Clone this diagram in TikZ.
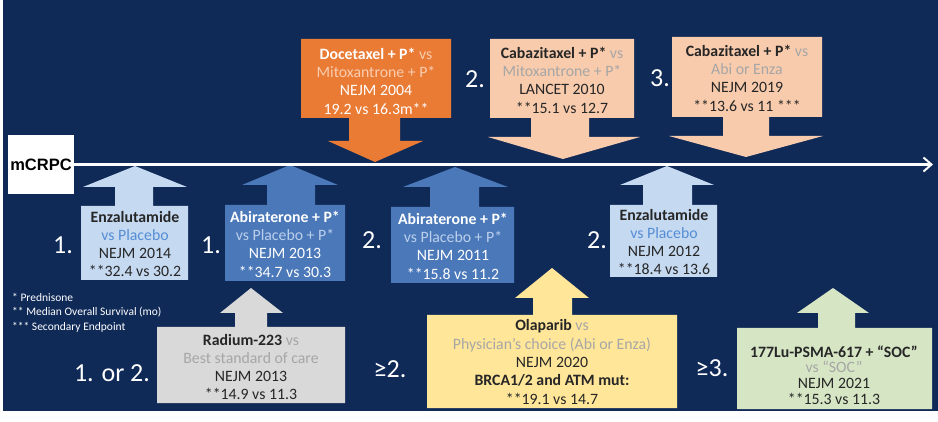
\documentclass[tikz,border=0pt]{standalone}
\usepackage{fontspec}
\setmainfont{Carlito}
\newfontfamily\arialfont{Liberation Sans}
\usetikzlibrary{arrows.meta}
\definecolor{navy}{RGB}{16,42,88}
\definecolor{lblue}{RGB}{197,217,241}
\definecolor{mblue}{RGB}{74,120,185}
\definecolor{orng}{RGB}{233,123,53}
\definecolor{peach}{RGB}{248,203,173}
\definecolor{lgray}{RGB}{217,217,217}
\definecolor{yell}{RGB}{255,230,153}
\definecolor{lgreen}{RGB}{214,230,196}
\definecolor{dark}{RGB}{38,38,38}
\definecolor{gtext}{RGB}{166,166,166}
\definecolor{enzavs}{RGB}{85,142,213}
\definecolor{abivs}{RGB}{188,208,236}
\definecolor{docvs}{RGB}{250,205,176}
\tikzset{
  txt/.style={font=\fontsize{15.8}{18.3}\selectfont, align=center, text=dark, inner sep=0pt},
  lbl/.style={font=\fontsize{26}{26}\selectfont, text=white, inner sep=0pt},
  fnote/.style={font=\fontsize{11.5}{11.5}\selectfont, text=white, inner sep=0pt, anchor=west},
}
\begin{document}
\begin{tikzpicture}[x=1pt,y=-1pt]
\useasboundingbox (0,0) rectangle (938,422);
\fill[white] (0,0) rectangle (938,422);
\fill[navy] (3,0) rectangle (938,411);

% callout shapes (boxes with arrows)
\fill[lblue] (81,280) -- (81,206) -- (115,206) -- (115,187) -- (83,187) -- (135,166) -- (187,187) -- (153,187) -- (153,206) -- (188,206) -- (188,280) -- cycle;
\fill[mblue] (225,281) -- (225,205) -- (267,205) -- (267,185) -- (242,185) -- (290,165) -- (338,185) -- (315,185) -- (315,205) -- (345,205) -- (345,281) -- cycle;
\fill[orng] (301,39) -- (451,39) -- (451,118) -- (400,118) -- (400,141) -- (423,141) -- (375,162) -- (328,141) -- (349,141) -- (349,118) -- (301,118) -- cycle;
\fill[peach] (490,39) -- (634,39) -- (634,118) -- (589,118) -- (589,137) -- (640,137) -- (563,159) -- (488,137) -- (531,137) -- (531,118) -- (490,118) -- cycle;
\fill[peach] (672,37) -- (822,37) -- (822,117) -- (769,117) -- (769,136) -- (823,136) -- (746,157) -- (669,136) -- (723,136) -- (723,117) -- (672,117) -- cycle;
\fill[mblue] (391,283) -- (391,207) -- (430,207) -- (430,187) -- (403,187) -- (455,167) -- (508,187) -- (479,187) -- (479,207) -- (514,207) -- (514,283) -- cycle;
\fill[lblue] (610,277) -- (610,205) -- (643,205) -- (643,185) -- (620,185) -- (667,166) -- (714,185) -- (692,185) -- (692,205) -- (717,205) -- (717,277) -- cycle;
\fill[lgray] (157,403) -- (157,327) -- (235,327) -- (235,313) -- (220,313) -- (251,288) -- (283,313) -- (267,313) -- (267,327) -- (345,327) -- (345,403) -- cycle;
\fill[yell] (427,408) -- (427,315) -- (533,315) -- (533,298) -- (515,298) -- (552,268) -- (589,298) -- (572,298) -- (572,315) -- (677,315) -- (677,408) -- cycle;
\fill[lgreen] (737,409) -- (737,328) -- (818,328) -- (818,313) -- (797,313) -- (833,288) -- (869,313) -- (855,313) -- (855,328) -- (932,328) -- (932,409) -- cycle;

% timeline
\node[fill=white, minimum width=66pt, minimum height=59pt, inner sep=0pt, font=\arialfont\bfseries\fontsize{16.5}{16.5}\selectfont, text=black] (mcrpc) at (41,164.5) {mCRPC};
\coordinate (tl) at (933,164.5);
\draw[white, line width=2.5pt, -{Straight Barb[length=8pt,width=14pt,line width=2pt]}] (mcrpc.east) -- (tl);

% box texts
\node[txt] (enzaA) at (135,244) {\textbf{Enzalutamide}\\\textcolor{enzavs}{vs Placebo}\\NEJM 2014\\**32.4 vs 30.2};
\node[txt, text=white] (abiA) at (285,244) {\textbf{Abiraterone + P*}\\\textcolor{abivs}{vs Placebo + P*}\\NEJM 2013\\**34.7 vs 30.3};
\node[txt, text=white] (doce) at (376,81) {\textbf{Docetaxel + P*} \textcolor{docvs}{vs}\\\textcolor{docvs}{Mitoxantrone + P*}\\NEJM 2004\\19.2 vs 16.3m**};
\node[txt] (cabaA) at (562,80) {\textbf{Cabazitaxel + P*} \textcolor{gtext}{vs}\\\textcolor{gtext}{Mitoxantrone + P*}\\LANCET 2010\\**15.1 vs 12.7};
\node[txt] (cabaB) at (747,78) {\textbf{Cabazitaxel + P*} \textcolor{gtext}{vs}\\\textcolor{gtext}{Abi or Enza}\\NEJM 2019\\**13.6 vs 11 ***};
\node[txt, text=white] (abiB) at (453,246) {\textbf{Abiraterone + P*}\\\textcolor{abivs}{vs Placebo + P*}\\NEJM 2011\\**15.8 vs 11.2};
\node[txt] (enzaB) at (664,242) {\textbf{Enzalutamide}\\\textcolor{enzavs}{vs Placebo}\\NEJM 2012\\**18.4 vs 13.6};
\node[txt] (radium) at (251,367) {\textbf{Radium-223} \textcolor{gtext}{vs}\\\textcolor{gtext}{Best standard of care}\\NEJM 2013\\**14.9 vs 11.3};
\node[txt] (olap) at (552,362) {\textbf{Olaparib} \textcolor{gtext}{vs}\\\textcolor{gtext}{Physician’s choice (Abi or Enza)}\\NEJM 2020\\\textbf{BRCA1/2 and ATM mut:}\\**19.1 vs 14.7};
\node[txt, font=\fontsize{15.8}{15.8}\selectfont] (lu) at (834,375) {\textbf{177Lu-PSMA-617 + “SOC”}\\\textcolor{gtext}{vs “SOC”}\\NEJM 2021\\**15.3 vs 11.3};

% line labels
\node[lbl] (l1a) at (63,245) {1.};
\node[lbl] (l1b) at (211,245) {1.};
\node[lbl] (l2a) at (372,240) {2.};
\node[lbl] (l2b) at (597,240) {2.};
\node[lbl] (l2c) at (475,79) {2.};
\node[lbl] (l3a) at (660,78) {3.};
\node[lbl] (l12) at (112,373) {1. or 2.};
\node[lbl] (lg2) at (390,369) {≥2.};
\node[lbl] (lg3) at (712,368) {≥3.};

% footnotes
\node[fnote] (f1) at (12,297) {* Prednisone};
\node[fnote] (f2) at (12,312) {** Median Overall Survival (mo)};
\node[fnote] (f3) at (12,327) {*** Secondary Endpoint};
\end{tikzpicture}
\end{document}
